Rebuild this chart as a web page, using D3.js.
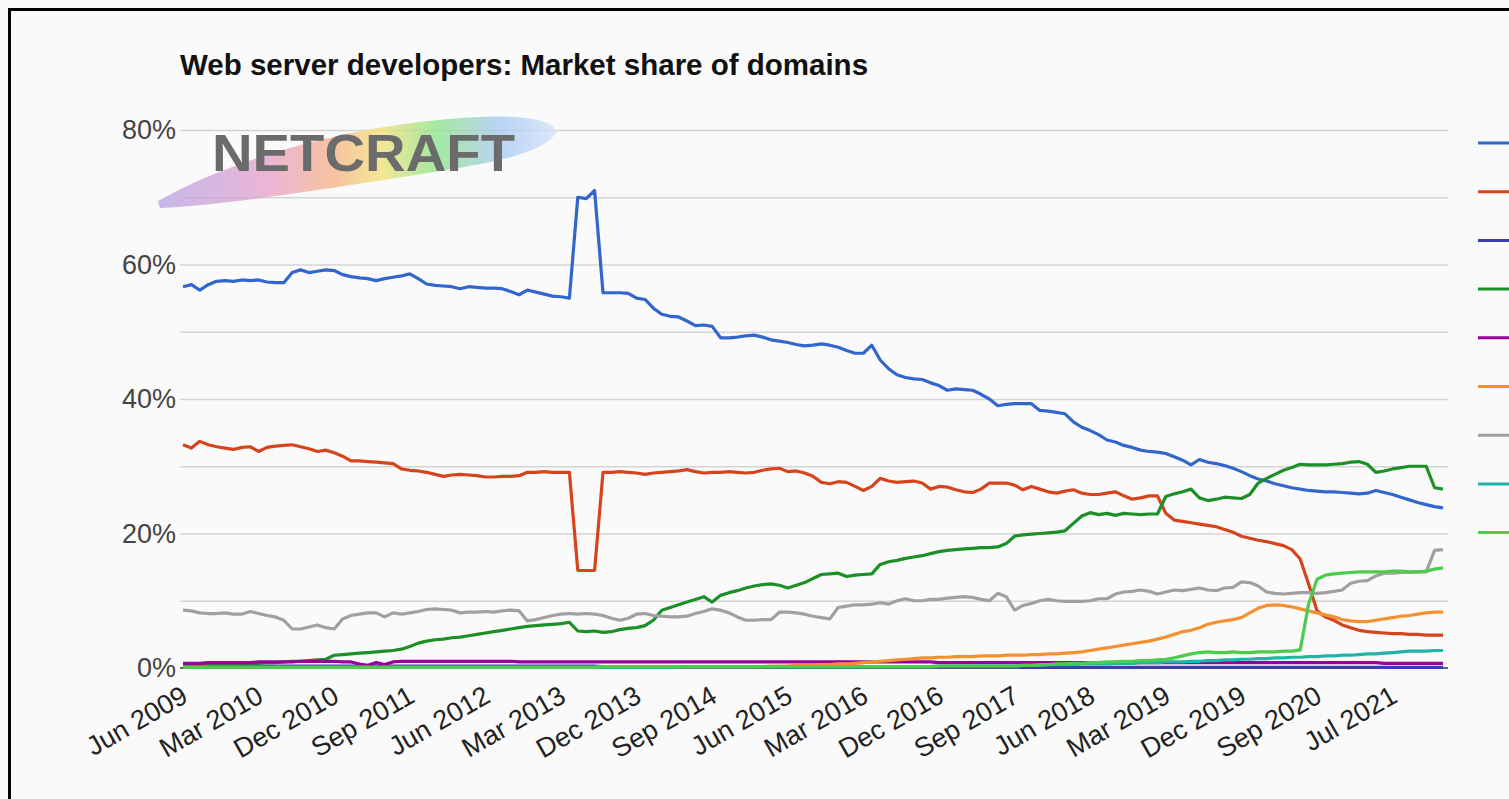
<!DOCTYPE html>
<html>
<head>
<meta charset="utf-8">
<script src="https://cdn.jsdelivr.net/npm/d3@7"></script>
<style>
  html, body { margin: 0; padding: 0; background: #fafafa; overflow: hidden; }
  svg { display: block; font-family: "Liberation Sans", Arial, sans-serif; }
</style>
</head>
<body>
<div id="chart"></div>
<script>
// x tick labels sit every 9th survey month (one month is missing in 2020/21)
const tickIdx = [0, 9, 18, 27, 36, 45, 54, 63, 72, 81, 90, 99, 108, 117, 126, 135, 144];
const tickLabels = ["Jun 2009", "Mar 2010", "Dec 2010", "Sep 2011", "Jun 2012", "Mar 2013",
    "Dec 2013", "Sep 2014", "Jun 2015", "Mar 2016", "Dec 2016", "Sep 2017", "Jun 2018",
    "Mar 2019", "Dec 2019", "Sep 2020", "Jul 2021"];
const yTicks = [0, 20, 40, 60, 80];
const yGrid = [10, 20, 30, 40, 50, 60, 70, 80];

// monthly market share of domains, %
const apache = [
    56.7, 57.0, 56.2, 57.0, 57.5, 57.6, 57.5, 57.7, 57.6, 57.7,
    57.4, 57.3, 57.3, 58.8, 59.2, 58.8, 59.0, 59.2, 59.1, 58.5,
    58.2, 58.0, 57.9, 57.6, 57.9, 58.1, 58.3, 58.6, 57.9, 57.1,
    56.9, 56.8, 56.7, 56.4, 56.7, 56.6, 56.5, 56.5, 56.4, 56.0,
    55.5, 56.2, 55.9, 55.6, 55.3, 55.2, 55.0, 70.0, 69.8, 71.0,
    55.8, 55.8, 55.8, 55.7, 55.0, 54.8, 53.5, 52.6, 52.3, 52.2,
    51.6, 50.9, 51.0, 50.8, 49.1, 49.1, 49.2, 49.4, 49.5, 49.2,
    48.8, 48.6, 48.4, 48.1, 47.9, 48.0, 48.2, 48.0, 47.7, 47.2,
    46.8, 46.8, 48.0, 45.8, 44.5, 43.6, 43.2, 43.0, 42.9, 42.4,
    42.0, 41.3, 41.5, 41.4, 41.3, 40.7, 40.0, 39.0, 39.2, 39.3,
    39.3, 39.3, 38.3, 38.2, 38.0, 37.8, 36.6, 35.8, 35.3, 34.7,
    33.9, 33.6, 33.1, 32.8, 32.4, 32.2, 32.1, 31.9, 31.4, 30.9,
    30.2, 31.0, 30.6, 30.4, 30.1, 29.7, 29.2, 28.6, 28.1, 27.8,
    27.4, 27.1, 26.8, 26.6, 26.4, 26.3, 26.2, 26.2, 26.1, 26.0,
    25.9, 26.0, 26.4, 26.1, 25.8, 25.4, 25.0, 24.6, 24.3, 24.0, 23.8
];
const microsoft = [
    33.2, 32.7, 33.7, 33.2, 32.9, 32.7, 32.5, 32.8, 32.9, 32.2,
    32.8, 33.0, 33.1, 33.2, 32.9, 32.6, 32.2, 32.4, 32.0, 31.5,
    30.8, 30.8, 30.7, 30.6, 30.5, 30.4, 29.6, 29.4, 29.3, 29.1,
    28.8, 28.5, 28.7, 28.8, 28.7, 28.6, 28.4, 28.4, 28.5, 28.5,
    28.6, 29.1, 29.1, 29.2, 29.1, 29.1, 29.1, 14.5, 14.5, 14.5,
    29.1, 29.1, 29.2, 29.1, 29.0, 28.8, 29.0, 29.1, 29.2, 29.3,
    29.5, 29.2, 29.0, 29.1, 29.1, 29.2, 29.1, 29.0, 29.1, 29.4,
    29.6, 29.7, 29.2, 29.3, 29.0, 28.5, 27.6, 27.4, 27.7, 27.6,
    27.0, 26.4, 27.0, 28.2, 27.8, 27.6, 27.7, 27.8, 27.5, 26.6,
    27.0, 26.9, 26.5, 26.2, 26.1, 26.6, 27.5, 27.5, 27.5, 27.2,
    26.5, 27.0, 26.6, 26.2, 26.0, 26.3, 26.5, 26.0, 25.8, 25.8,
    26.0, 26.2, 25.6, 25.1, 25.3, 25.6, 25.6, 23.0, 22.0, 21.8,
    21.6, 21.4, 21.2, 21.0, 20.6, 20.2, 19.6, 19.3, 19.0, 18.8,
    18.5, 18.2, 17.6, 16.2, 12.5, 8.5, 7.6, 7.1, 6.4, 6.0,
    5.6, 5.4, 5.3, 5.2, 5.1, 5.1, 5.0, 5.0, 4.9, 4.9, 4.9
];
const sun = [
    0.3, 0.3, 0.3, 0.3, 0.3, 0.3, 0.3, 0.3, 0.3, 0.3,
    0.3, 0.3, 0.3, 0.3, 0.3, 0.3, 0.3, 0.3, 0.3, 0.3,
    0.3, 0.3, 0.3, 0.3, 0.3, 0.3, 0.3, 0.3, 0.3, 0.3,
    0.3, 0.3, 0.3, 0.3, 0.3, 0.3, 0.3, 0.3, 0.3, 0.3,
    0.3, 0.3, 0.3, 0.3, 0.3, 0.3, 0.3, 0.3, 0.3, 0.3,
    0.2, 0.2, 0.2, 0.2, 0.2, 0.2, 0.2, 0.2, 0.2, 0.2,
    0.2, 0.2, 0.2, 0.2, 0.2, 0.2, 0.2, 0.2, 0.2, 0.2,
    0.2, 0.2, 0.2, 0.2, 0.2, 0.2, 0.2, 0.2, 0.2, 0.2,
    0.2, 0.2, 0.2, 0.2, 0.2, 0.2, 0.2, 0.2, 0.2, 0.2,
    0.2, 0.2, 0.2, 0.2, 0.2, 0.2, 0.2, 0.2, 0.2, 0.2,
    0.1, 0.1, 0.1, 0.1, 0.1, 0.1, 0.1, 0.1, 0.1, 0.1,
    0.1, 0.1, 0.1, 0.1, 0.1, 0.1, 0.1, 0.1, 0.1, 0.1,
    0.1, 0.1, 0.1, 0.1, 0.1, 0.1, 0.1, 0.1, 0.1, 0.1,
    0.1, 0.1, 0.1, 0.1, 0.1, 0.1, 0.1, 0.1, 0.1, 0.1,
    0.1, 0.1, 0.1, 0.1, 0.1, 0.1, 0.1, 0.1, 0.1, 0.1, 0.1
];
const nginx = [
    0.5, 0.5, 0.5, 0.6, 0.6, 0.6, 0.6, 0.7, 0.7, 0.7,
    0.8, 0.8, 0.9, 1.0, 1.0, 1.1, 1.2, 1.3, 1.9, 2.0,
    2.1, 2.2, 2.3, 2.4, 2.5, 2.6, 2.8, 3.2, 3.7, 4.0,
    4.2, 4.3, 4.5, 4.6, 4.8, 5.0, 5.2, 5.4, 5.6, 5.8,
    6.0, 6.2, 6.3, 6.4, 6.5, 6.6, 6.8, 5.5, 5.4, 5.5,
    5.3, 5.4, 5.7, 5.9, 6.0, 6.3, 7.1, 8.6, 9.0, 9.4,
    9.8, 10.2, 10.6, 9.8, 10.8, 11.2, 11.5, 11.9, 12.2, 12.4,
    12.5, 12.3, 11.9, 12.3, 12.7, 13.3, 13.9, 14.0, 14.1, 13.6,
    13.8, 13.9, 14.0, 15.4, 15.8, 16.0, 16.3, 16.5, 16.7, 17.0,
    17.3, 17.5, 17.6, 17.7, 17.8, 17.9, 17.9, 18.0, 18.5, 19.6,
    19.8, 19.9, 20.0, 20.1, 20.2, 20.4, 21.5, 22.6, 23.1, 22.8,
    23.0, 22.7, 23.0, 22.9, 22.8, 22.9, 22.9, 25.5, 25.9, 26.2,
    26.6, 25.3, 24.9, 25.1, 25.4, 25.3, 25.2, 25.8, 27.5, 28.2,
    28.8, 29.4, 29.8, 30.3, 30.2, 30.2, 30.2, 30.3, 30.4, 30.6,
    30.7, 30.3, 29.1, 29.3, 29.6, 29.8, 30.0, 30.0, 30.0, 26.8, 26.6
];
const google = [
    0.7, 0.7, 0.7, 0.8, 0.8, 0.8, 0.8, 0.8, 0.8, 0.9,
    0.9, 0.9, 0.9, 0.9, 1.0, 1.0, 1.0, 1.0, 1.0, 0.9,
    0.9, 0.6, 0.4, 0.8, 0.5, 0.9, 1.0, 1.0, 1.0, 1.0,
    1.0, 1.0, 1.0, 1.0, 1.0, 1.0, 1.0, 1.0, 1.0, 1.0,
    0.9, 0.9, 0.9, 0.9, 0.9, 0.9, 0.9, 0.9, 0.9, 0.9,
    0.9, 0.9, 0.9, 0.9, 0.9, 0.9, 0.9, 0.9, 0.9, 0.9,
    0.9, 0.9, 0.9, 0.9, 0.9, 0.9, 0.9, 0.9, 0.9, 0.9,
    0.9, 0.9, 0.9, 0.9, 0.9, 0.9, 0.9, 0.9, 0.9, 0.9,
    0.9, 0.9, 0.9, 0.9, 0.9, 0.9, 0.9, 0.9, 0.9, 0.9,
    0.8, 0.8, 0.8, 0.8, 0.8, 0.8, 0.8, 0.8, 0.8, 0.8,
    0.8, 0.8, 0.8, 0.8, 0.8, 0.8, 0.8, 0.8, 0.8, 0.8,
    0.8, 0.8, 0.8, 0.8, 0.8, 0.8, 0.8, 0.8, 0.8, 0.8,
    0.8, 0.8, 0.8, 0.8, 0.8, 0.8, 0.8, 0.8, 0.8, 0.8,
    0.8, 0.8, 0.8, 0.8, 0.8, 0.8, 0.8, 0.8, 0.8, 0.8,
    0.8, 0.8, 0.8, 0.7, 0.7, 0.7, 0.7, 0.7, 0.7, 0.7, 0.7
];
const cloudflare = [
    0.1, 0.1, 0.1, 0.1, 0.1, 0.1, 0.1, 0.1, 0.1, 0.1,
    0.1, 0.1, 0.1, 0.1, 0.1, 0.1, 0.1, 0.1, 0.1, 0.1,
    0.1, 0.1, 0.1, 0.1, 0.1, 0.1, 0.1, 0.1, 0.1, 0.1,
    0.1, 0.1, 0.1, 0.1, 0.1, 0.1, 0.1, 0.1, 0.1, 0.1,
    0.1, 0.1, 0.1, 0.1, 0.1, 0.1, 0.1, 0.1, 0.1, 0.1,
    0.2, 0.2, 0.2, 0.2, 0.2, 0.2, 0.2, 0.2, 0.2, 0.2,
    0.2, 0.2, 0.2, 0.2, 0.2, 0.2, 0.2, 0.2, 0.2, 0.2,
    0.3, 0.3, 0.3, 0.4, 0.4, 0.4, 0.5, 0.5, 0.6, 0.6,
    0.7, 0.8, 0.9, 1.0, 1.1, 1.2, 1.3, 1.4, 1.5, 1.5,
    1.6, 1.6, 1.7, 1.7, 1.7, 1.8, 1.8, 1.8, 1.9, 1.9,
    1.9, 2.0, 2.0, 2.1, 2.1, 2.2, 2.3, 2.4, 2.6, 2.8,
    3.0, 3.2, 3.4, 3.6, 3.8, 4.0, 4.3, 4.6, 5.0, 5.4,
    5.6, 6.0, 6.5, 6.8, 7.0, 7.2, 7.5, 8.2, 8.9, 9.3,
    9.4, 9.3, 9.1, 8.8, 8.5, 8.2, 7.9, 7.6, 7.2, 7.0,
    6.9, 6.9, 7.1, 7.3, 7.5, 7.7, 7.8, 8.0, 8.2, 8.3, 8.3
];
const other = [
    8.6, 8.5, 8.2, 8.1, 8.1, 8.2, 8.0, 8.0, 8.4, 8.1,
    7.8, 7.6, 7.1, 5.8, 5.8, 6.1, 6.4, 6.0, 5.8, 7.3,
    7.8, 8.0, 8.2, 8.2, 7.6, 8.2, 8.0, 8.2, 8.4, 8.7,
    8.8, 8.7, 8.6, 8.2, 8.3, 8.3, 8.4, 8.3, 8.5, 8.6,
    8.5, 7.0, 7.2, 7.5, 7.8, 8.0, 8.1, 8.0, 8.1, 8.0,
    7.8, 7.4, 7.1, 7.4, 8.0, 8.1, 7.8, 7.7, 7.6, 7.6,
    7.7, 8.1, 8.4, 8.8, 8.6, 8.2, 7.6, 7.1, 7.1, 7.2,
    7.2, 8.3, 8.3, 8.2, 8.0, 7.7, 7.5, 7.3, 9.0, 9.2,
    9.4, 9.4, 9.5, 9.7, 9.5, 10.0, 10.3, 10.0, 10.0, 10.2,
    10.2, 10.4, 10.5, 10.6, 10.5, 10.2, 10.0, 11.1, 10.6, 8.6,
    9.3, 9.6, 10.0, 10.2, 10.0, 9.9, 9.9, 9.9, 10.0, 10.3,
    10.3, 11.0, 11.3, 11.4, 11.6, 11.4, 11.0, 11.3, 11.6, 11.5,
    11.7, 11.9, 11.6, 11.5, 11.9, 12.0, 12.8, 12.7, 12.2, 11.3,
    11.1, 11.0, 11.1, 11.2, 11.2, 11.1, 11.2, 11.4, 11.6, 12.6,
    12.9, 13.0, 13.7, 14.1, 14.1, 14.2, 14.2, 14.3, 14.3, 17.5, 17.6
];
const litespeed = [
    0.1, 0.1, 0.1, 0.1, 0.1, 0.1, 0.1, 0.1, 0.1, 0.1,
    0.1, 0.1, 0.1, 0.1, 0.1, 0.1, 0.1, 0.1, 0.1, 0.1,
    0.1, 0.1, 0.1, 0.1, 0.1, 0.1, 0.1, 0.1, 0.1, 0.1,
    0.1, 0.1, 0.1, 0.1, 0.1, 0.1, 0.1, 0.1, 0.1, 0.1,
    0.1, 0.1, 0.1, 0.1, 0.1, 0.1, 0.1, 0.1, 0.1, 0.1,
    0.1, 0.1, 0.1, 0.1, 0.1, 0.1, 0.1, 0.1, 0.1, 0.1,
    0.2, 0.2, 0.2, 0.2, 0.2, 0.2, 0.2, 0.2, 0.2, 0.2,
    0.2, 0.2, 0.2, 0.2, 0.2, 0.2, 0.2, 0.2, 0.2, 0.2,
    0.2, 0.2, 0.2, 0.2, 0.2, 0.2, 0.2, 0.2, 0.2, 0.2,
    0.3, 0.3, 0.3, 0.3, 0.3, 0.3, 0.3, 0.3, 0.3, 0.3,
    0.4, 0.4, 0.4, 0.5, 0.5, 0.5, 0.5, 0.6, 0.6, 0.6,
    0.6, 0.7, 0.7, 0.7, 0.8, 0.8, 0.8, 0.9, 0.9, 0.9,
    1.0, 1.0, 1.1, 1.1, 1.2, 1.2, 1.3, 1.3, 1.4, 1.4,
    1.5, 1.5, 1.6, 1.6, 1.7, 1.7, 1.8, 1.8, 1.9, 1.9,
    2.0, 2.1, 2.1, 2.2, 2.3, 2.4, 2.5, 2.5, 2.5, 2.6, 2.6
];
const openresty = [
    0.1, 0.1, 0.1, 0.1, 0.1, 0.1, 0.1, 0.1, 0.1, 0.1,
    0.1, 0.1, 0.1, 0.1, 0.1, 0.1, 0.1, 0.1, 0.1, 0.1,
    0.1, 0.1, 0.1, 0.1, 0.1, 0.1, 0.1, 0.1, 0.1, 0.1,
    0.1, 0.1, 0.1, 0.1, 0.1, 0.1, 0.1, 0.1, 0.1, 0.1,
    0.1, 0.1, 0.1, 0.1, 0.1, 0.1, 0.1, 0.1, 0.1, 0.1,
    0.2, 0.2, 0.2, 0.2, 0.2, 0.2, 0.2, 0.2, 0.2, 0.2,
    0.2, 0.2, 0.2, 0.2, 0.2, 0.2, 0.2, 0.2, 0.2, 0.2,
    0.2, 0.2, 0.2, 0.2, 0.2, 0.2, 0.2, 0.2, 0.2, 0.2,
    0.2, 0.2, 0.2, 0.2, 0.2, 0.2, 0.2, 0.2, 0.2, 0.2,
    0.3, 0.3, 0.3, 0.3, 0.3, 0.3, 0.3, 0.3, 0.3, 0.3,
    0.4, 0.4, 0.5, 0.5, 0.6, 0.6, 0.7, 0.7, 0.8, 0.8,
    0.9, 0.9, 1.0, 1.0, 1.1, 1.1, 1.2, 1.3, 1.5, 1.8,
    2.1, 2.3, 2.4, 2.3, 2.3, 2.4, 2.3, 2.3, 2.4, 2.4,
    2.4, 2.5, 2.5, 2.7, 9.5, 13.2, 13.8, 14.0, 14.1, 14.2,
    14.3, 14.3, 14.3, 14.3, 14.4, 14.4, 14.3, 14.3, 14.4, 14.7, 14.9
];

const series = [
    {name: "Apache", values: apache, color: "#3366cc"},
    {name: "Microsoft", values: microsoft, color: "#d6441d"},
    {name: "Sun", values: sun, color: "#3b3eac"},
    {name: "nginx", values: nginx, color: "#1c8f26"},
    {name: "Google", values: google, color: "#990099"},
    {name: "Cloudflare", values: cloudflare, color: "#f39130"},
    {name: "Other", values: other, color: "#a0a0a0"},
    {name: "LiteSpeed", values: litespeed, color: "#22b3a6"},
    {name: "OpenResty", values: openresty, color: "#4ccc4c"}
];

const W = 1509, H = 799;
const plot = {left: 180, right: 1448, top: 130, bottom: 668};

const svg = d3.select("#chart").append("svg")
    .attr("width", W).attr("height", H);

const x = d3.scaleLinear().domain([0, apache.length - 1]).range([183, 1443]);
const y = d3.scaleLinear().domain([0, 80]).range([plot.bottom, plot.top]);

// frame
svg.append("rect")
    .attr("x", 9.5).attr("y", 9.5)
    .attr("width", W + 20).attr("height", H + 20)
    .attr("fill", "none").attr("stroke", "#000").attr("stroke-width", 3);

// title
svg.append("text")
    .attr("x", plot.left).attr("y", 75)
    .attr("font-size", 29.5).attr("font-weight", "bold").attr("fill", "#111")
    .text("Web server developers: Market share of domains");

// gridlines
svg.append("g")
    .attr("transform", `translate(${plot.left},0)`)
    .call(d3.axisLeft(y).tickValues(yGrid).tickSize(-(plot.right - plot.left)).tickFormat(""))
    .call(g => g.select(".domain").remove())
    .call(g => g.selectAll("line").attr("stroke", "#d4d4d4").attr("stroke-width", 1.5));

// netcraft logo
const defs = svg.append("defs");
const grad = defs.append("linearGradient").attr("id", "brush")
    .attr("x1", "0%").attr("x2", "100%").attr("y1", "0%").attr("y2", "0%");
[["0%", "#b9a6e6"], ["28%", "#e7a4cc"], ["44%", "#f6b48a"], ["56%", "#f3e27a"],
 ["70%", "#8fe48c"], ["86%", "#a9caf3"], ["100%", "#d4e2f8"]]
    .forEach(s => grad.append("stop").attr("offset", s[0]).attr("stop-color", s[1]));
const logo = svg.append("g").attr("class", "logo");
logo.append("path")
    .attr("d", "M158,201 C230,160 350,123 480,117 C530,115 556,121 556,133 C540,158 470,166 390,179 C300,193 220,205 160,208 Z")
    .attr("fill", "url(#brush)").attr("opacity", 0.8);
logo.append("text")
    .attr("x", 212).attr("y", 171)
    .attr("font-size", 52).attr("font-weight", "bold").attr("fill", "#6b6b6b")
    .attr("textLength", 303).attr("lengthAdjust", "spacingAndGlyphs")
    .text("NETCRAFT");

// y axis labels
svg.append("g")
    .attr("transform", `translate(${plot.left},0)`)
    .call(d3.axisLeft(y).tickValues(yTicks).tickSize(0).tickPadding(4).tickFormat(d => d + "%"))
    .call(g => g.select(".domain").remove())
    .call(g => g.selectAll("text").attr("font-size", 27).attr("fill", "#444")
        .attr("font-family", "Liberation Sans, Arial, sans-serif"));

// baseline
svg.append("line")
    .attr("x1", plot.left).attr("x2", plot.right)
    .attr("y1", y(0)).attr("y2", y(0))
    .attr("stroke", "#333").attr("stroke-width", 1.5);

// x axis labels, slanted
svg.append("g")
    .attr("transform", `translate(0,${plot.bottom})`)
    .call(d3.axisBottom(x).tickValues(tickIdx).tickSize(0).tickFormat((d, i) => tickLabels[i]))
    .call(g => g.select(".domain").remove())
    .call(g => g.selectAll("text")
        .attr("x", 0).attr("y", 0).attr("dy", 0)
        .attr("text-anchor", "end")
        .attr("transform", "translate(6,33) rotate(-30)")
        .attr("font-size", 27).attr("fill", "#222")
        .attr("font-family", "Liberation Sans, Arial, sans-serif"));

// series lines
const line = d3.line()
    .x((d, i) => x(i))
    .y(d => y(d));

svg.append("g").attr("class", "series")
    .selectAll("path")
    .data(series)
    .enter().append("path")
    .attr("d", d => line(d.values))
    .attr("fill", "none")
    .attr("stroke", d => d.color)
    .attr("stroke-width", 3.2)
    .attr("stroke-linejoin", "round");

// legend swatches (labels run off the right edge)
svg.append("g").attr("class", "legend")
    .selectAll("line")
    .data(series)
    .enter().append("line")
    .attr("x1", 1478).attr("x2", 1530)
    .attr("y1", (d, i) => 143 + i * 48.7)
    .attr("y2", (d, i) => 143 + i * 48.7)
    .attr("stroke", d => d.color)
    .attr("stroke-width", 3);
</script>
</body>
</html>
